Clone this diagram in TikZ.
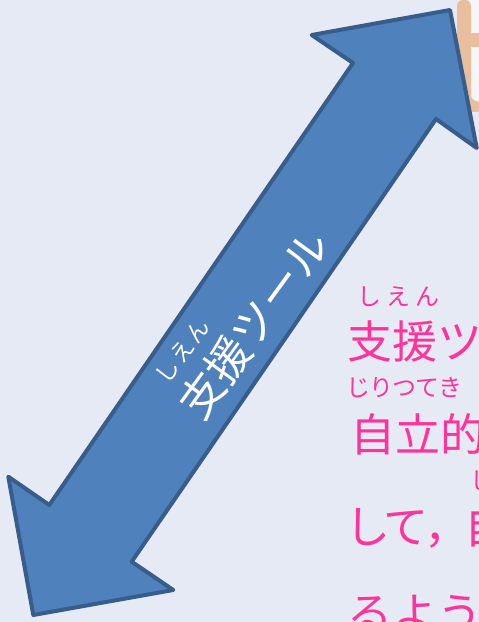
\documentclass[tikz,border=0pt]{standalone}
\usepackage{fontspec}
\newfontfamily\jp{Noto Sans CJK JP}
\definecolor{bgcol}{HTML}{E6EAF5}
\definecolor{arrowfill}{HTML}{4F81BD}
\definecolor{arrowline}{HTML}{385D8A}
\definecolor{pinktxt}{HTML}{FF3399}
\definecolor{tancol}{HTML}{E8BE9C}
\begin{document}
\begin{tikzpicture}[x=1pt,y=1pt,
  bigpink/.style={text=pinktxt, inner sep=0pt, anchor=west, font=\jp\fontsize{45pt}{50pt}\selectfont},
  rubypink/.style={text=pinktxt, inner sep=0pt, anchor=west, font=\jp\fontsize{24pt}{28pt}\selectfont},
  arrowshape/.style={fill=arrowfill, draw=arrowline, line width=4pt, line join=round},
  bigwhite/.style={text=white, inner sep=0pt, font=\jp\fontsize{44pt}{48pt}\selectfont},
  rubywhite/.style={text=white, inner sep=0pt, font=\jp\fontsize{23pt}{26pt}\selectfont}]
\useasboundingbox (0,0) rectangle (479,622);
\clip (0,0) rectangle (479,622);
\fill[bgcol] (0,0) rectangle (479,622);
% partial shape at top right
\fill[white!55!bgcol] (469,512) rectangle (479,622);
\fill[tancol, rounded corners=6pt] (457,622) -- (457,510) -- (482,510) -- (482,521) -- (471,521) -- (471,622) -- cycle;
\fill[tancol] (471,575) rectangle (479,589);
% double arrow
\draw[arrowshape] (450,612) -- (476.7,474) -- (436,503) -- (131.7,60.3) -- (173.3,32)
  -- (33.3,7) -- (8.3,145.3) -- (49.3,117) -- (353,559) -- (311.7,587) -- cycle;
\begin{scope}[shift={(254,298)}, rotate=54]
  \node[bigwhite, rotate=54] (tool) at (0,0) {支援ツール};
  \node[rubywhite, rotate=54] (toolruby) at (-64,42) {し\hspace{2pt}え\hspace{2pt}ん};
\end{scope}
% pink text (cut off at the right edge)
\node[rubypink] (r1) at (357,325) {し\hspace{5pt}え\hspace{5pt}ん};
\node[bigpink] (l1) at (347,280.5) {支援ツ};
\node[rubypink] (r2) at (346,234) {じ\hspace{-1pt}り\hspace{-1pt}つ\hspace{-1pt}て\hspace{-1pt}き};
\node[bigpink] (l2) at (350,188) {自立的};
\node[rubypink] (r3) at (470,141) {じ};
\node[bigpink] (l3) at (345,95) {し\hspace{-7pt}て\hspace{-4pt}，\hspace{-5pt}自};
\node[bigpink] (l4) at (347,8) {るよう};
\end{tikzpicture}
\end{document}
